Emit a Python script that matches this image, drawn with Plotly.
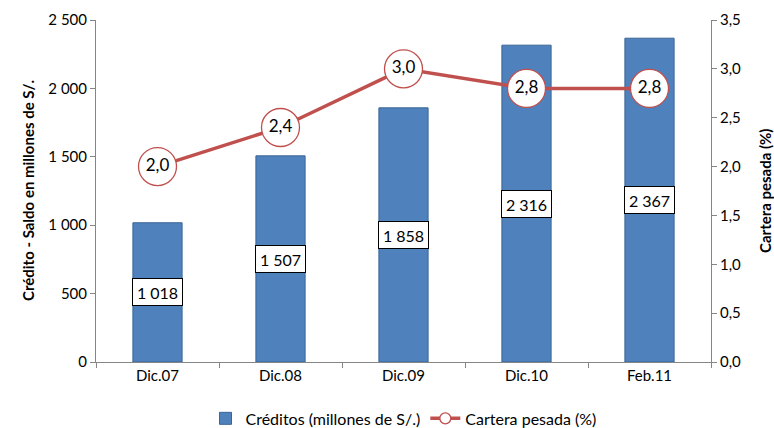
import plotly.graph_objects as go

categories = ["Dic.07", "Dic.08", "Dic.09", "Dic.10", "Feb.11"]
creditos = [1018, 1507, 1858, 2316, 2367]
cartera = [2.0, 2.4, 3.0, 2.8, 2.8]

bar_name = "Créditos (millones de S/.)"
line_name = "Cartera pesada (%)"
y1_title = "Crédito - Saldo en millones de S/."
y2_title = "Cartera pesada (%)"

FONT = "Lato, Carlito, Calibri, sans-serif"
BLUE = "#4F81BD"
RED = "#C0504D"
AXIS = "#868686"

fig = go.Figure()
fig.add_trace(go.Bar(
    x=categories, y=creditos, name=bar_name, width=0.4,
    marker=dict(color=BLUE, line=dict(color="#3A6596", width=1)),
    yaxis="y", hoverinfo="skip",
))
fig.add_trace(go.Scatter(
    x=categories, y=cartera, yaxis="y2", mode="lines+markers+text",
    line=dict(color=RED, width=3.5),
    marker=dict(size=38, color="white", line=dict(color=RED, width=1.3)),
    texttemplate="%{y:.1f}", textposition="middle center",
    textfont=dict(family=FONT, size=17, color="black"),
    showlegend=False, hoverinfo="skip",
))
fig.add_trace(go.Scatter(
    x=[None], y=[None], yaxis="y2", mode="lines+markers", name=line_name,
    line=dict(color=RED, width=3.5),
    marker=dict(size=11, color="white", line=dict(color=RED, width=1.3)),
))

for c, v in zip(categories, creditos):
    fig.add_annotation(
        x=c, y=v / 2, xref="x", yref="y",
        text=f"{v:,}".replace(",", " "), showarrow=False,
        font=dict(family=FONT, size=16, color="black"),
        bgcolor="white", bordercolor="black", borderwidth=1,
        width=47, height=24, borderpad=1,
    )

fig.add_annotation(
    text="<b>" + y1_title + "</b>", xref="paper", yref="paper",
    x=0, y=0.5, xshift=-68, xanchor="center", yanchor="middle",
    textangle=-90, showarrow=False,
    font=dict(family=FONT, size=15, color="black"),
)
fig.add_annotation(
    text="<b>" + y2_title + "</b>", xref="paper", yref="paper",
    x=1, y=0.5, xshift=54, xanchor="center", yanchor="middle",
    textangle=-90, showarrow=False,
    font=dict(family=FONT, size=15, color="black"),
)

fig.update_layout(
    width=774, height=428,
    margin=dict(l=96, r=63, t=20, b=66, autoexpand=False),
    plot_bgcolor="white", paper_bgcolor="white",
    separators=", ",
    font=dict(family=FONT, size=15, color="black"),
    xaxis=dict(
        type="category", showline=True, linecolor=AXIS, linewidth=1,
        ticks="outside", tickson="boundaries", ticklen=5, tickcolor=AXIS,
        showgrid=False, tickfont=dict(family=FONT, size=15), automargin=False,
    ),
    yaxis=dict(
        range=[0, 2500], dtick=500, tick0=0, tickformat=",.0f",
        showline=True, linecolor=AXIS, linewidth=1,
        ticks="outside", ticklen=5, tickcolor=AXIS, showgrid=False, zeroline=False,
        tickfont=dict(family=FONT, size=15), automargin=False,
    ),
    yaxis2=dict(
        range=[0, 3.5], dtick=0.5, tick0=0, tickformat=".1f",
        overlaying="y", side="right",
        showline=True, linecolor=AXIS, linewidth=1,
        ticks="outside", ticklen=5, tickcolor=AXIS, showgrid=False, zeroline=False,
        tickfont=dict(family=FONT, size=15), automargin=False,
    ),
    legend=dict(
        orientation="h", x=0.5, xanchor="center", y=-0.165, yanchor="middle",
        font=dict(family=FONT, size=16), traceorder="normal",
    ),
)

fig.write_html(
    "out.html",
    config={"displayModeBar": False},
    post_script="document.body.style.margin='0';document.body.style.overflow='hidden';",
)
